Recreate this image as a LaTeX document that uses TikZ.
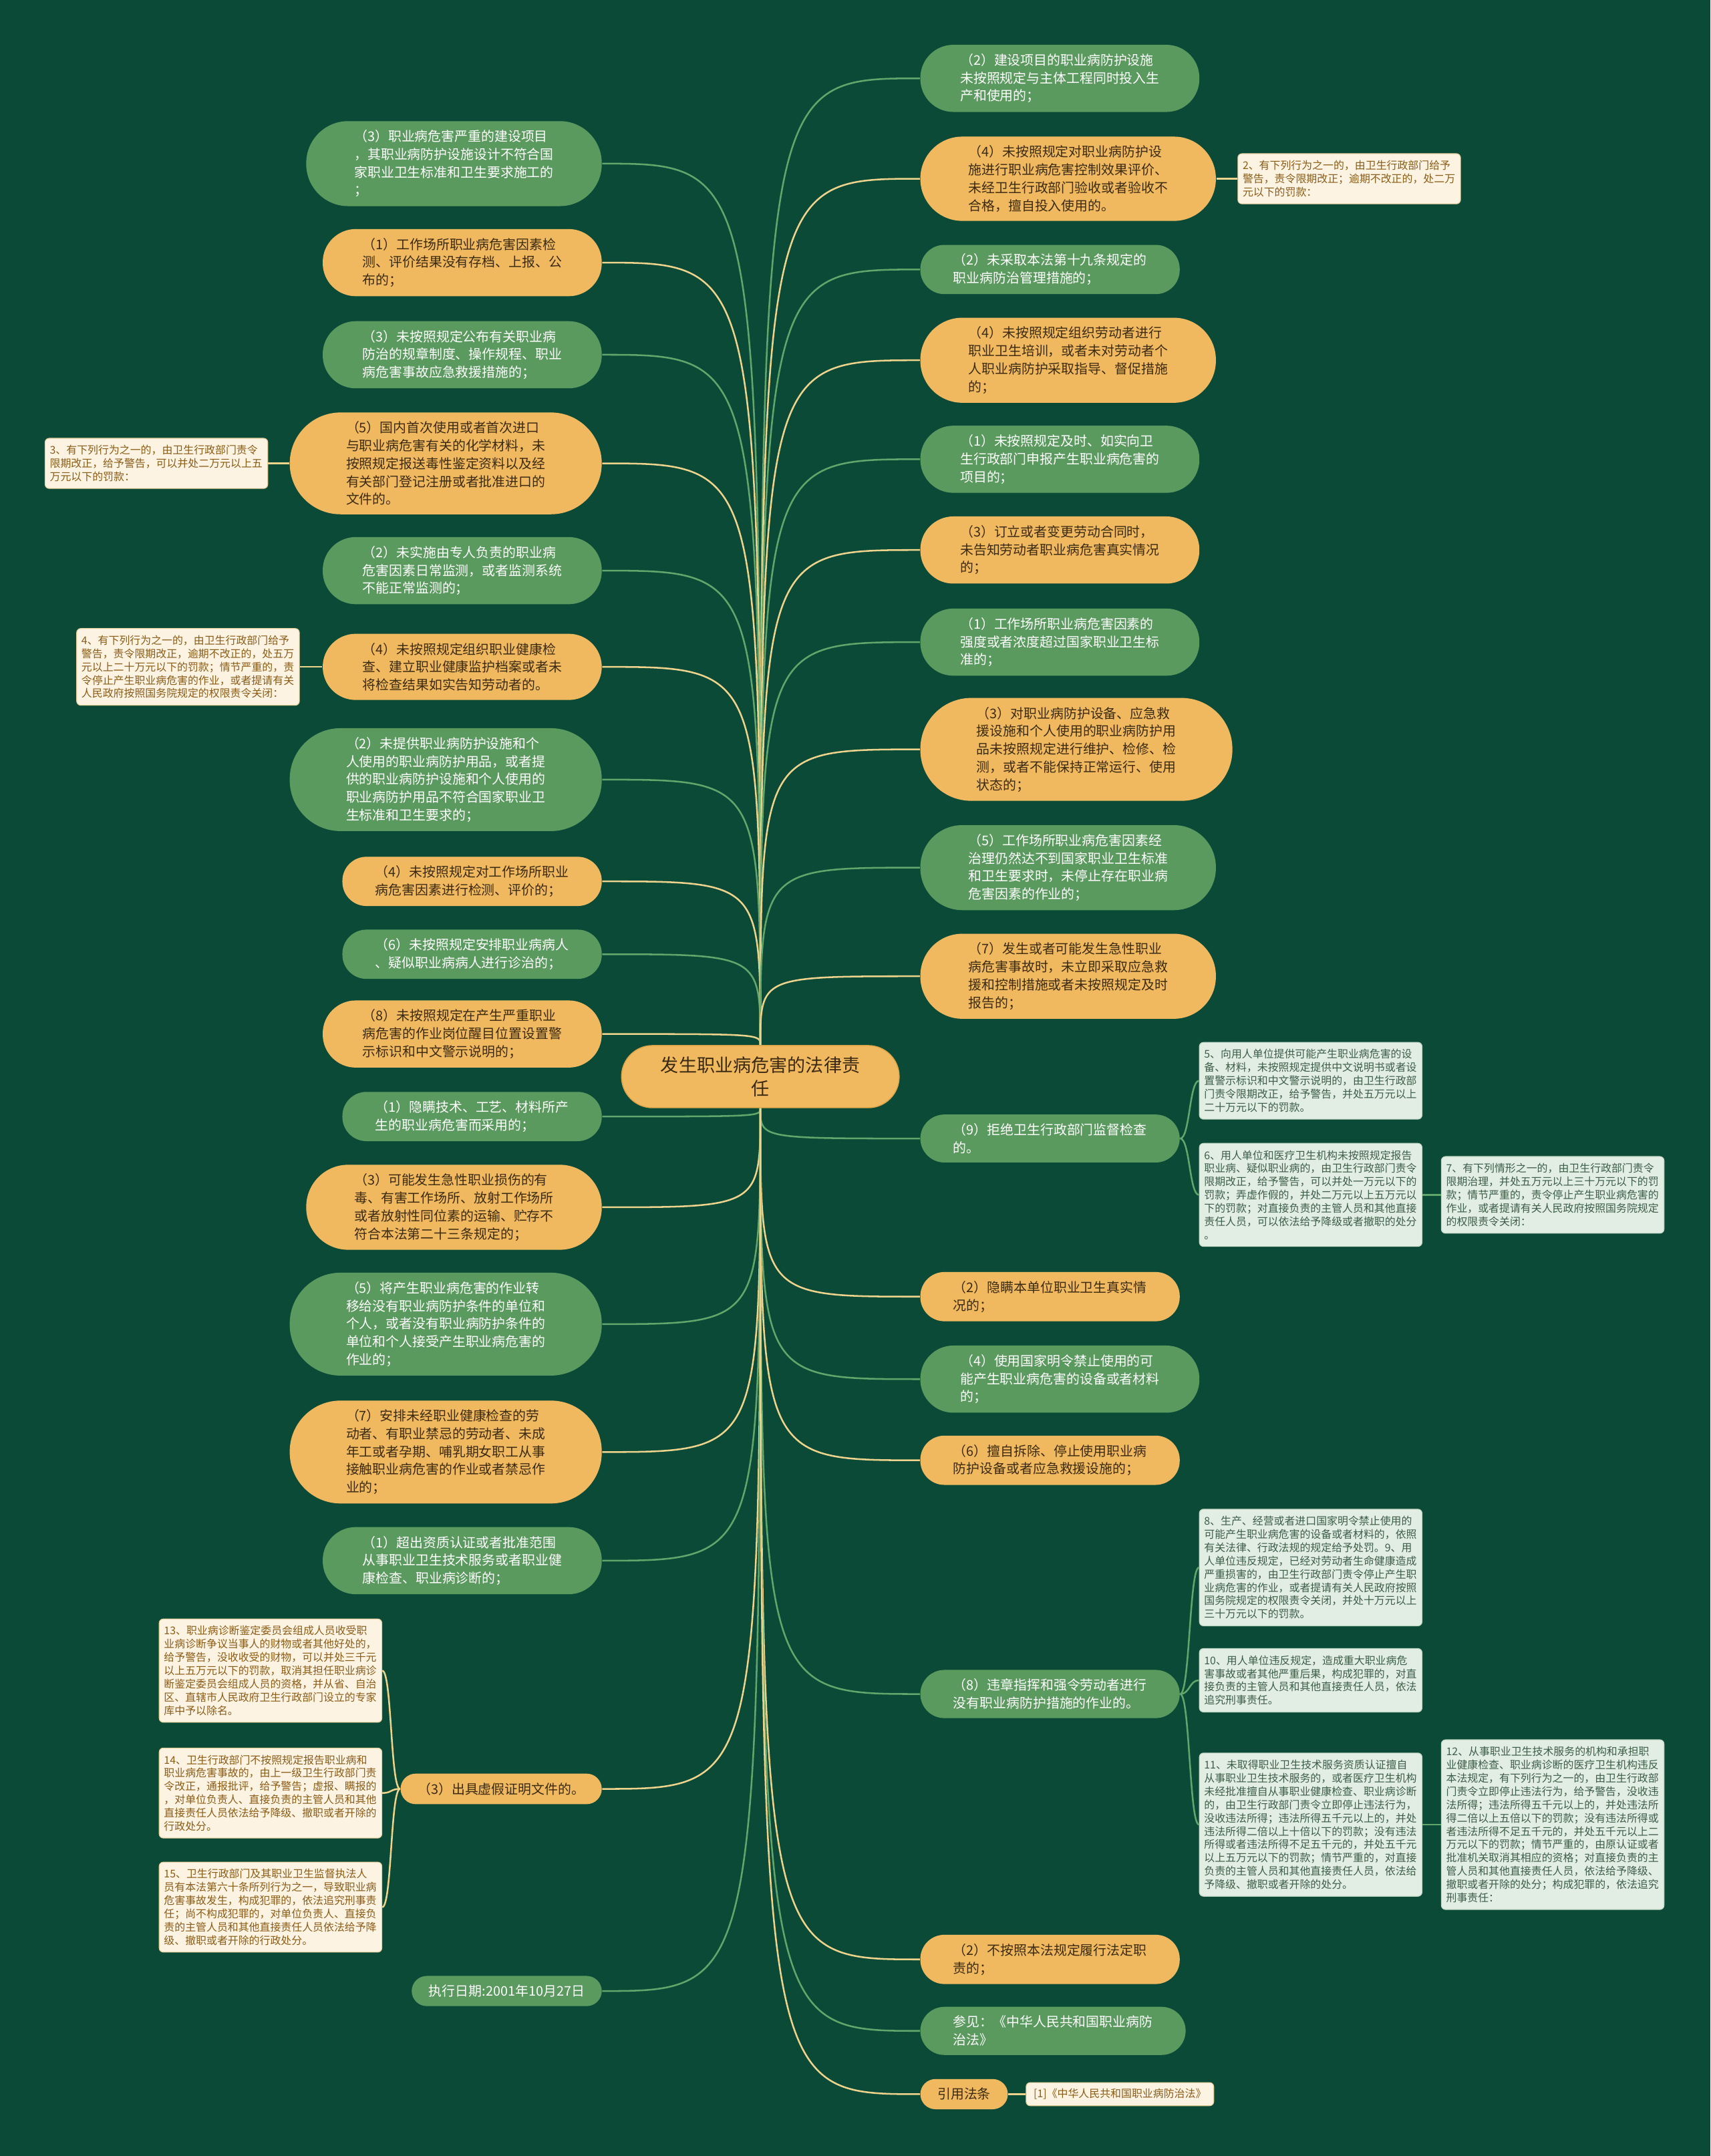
\documentclass[tikz,border=0pt]{standalone}
\usepackage{fontspec}
\setmainfont{Noto Sans CJK SC}
\usepackage{xcolor}
\definecolor{bg}{HTML}{0B4A37}
\definecolor{leaf}{HTML}{5A9A5E}
\definecolor{amber}{HTML}{F0B95F}
\definecolor{amberdark}{HTML}{DDA548}
\definecolor{ink}{HTML}{3B2A12}
\definecolor{cream}{HTML}{FDF3E2}
\definecolor{creamline}{HTML}{E6CF98}
\definecolor{creamtext}{HTML}{8A5C17}
\definecolor{mint}{HTML}{E2EDE3}
\definecolor{mintline}{HTML}{BFD6C3}
\definecolor{minttext}{HTML}{3C5E47}
\definecolor{lineg}{HTML}{62A66B}
\definecolor{liney}{HTML}{EDD38C}
\tikzset{
  hub/.style={fill=amber, draw=amberdark, line width=0.4pt, text=ink, rounded corners=0.45cm,
    inner xsep=0.57cm, inner ysep=0.16cm, align=center, font=\fontsize{7.5}{9.7}\selectfont},
  gbox/.style={fill=leaf, text=white, align=left, inner ysep=0.13cm, font=\fontsize{5.5}{7.4}\selectfont},
  obox/.style={fill=amber, text=ink, align=left, inner ysep=0.13cm, font=\fontsize{5.5}{7.4}\selectfont},
  h1/.style={rounded corners=0.22cm, inner xsep=0.25cm},
  h2/.style={rounded corners=0.35cm, inner xsep=0.48cm},
  h3/.style={rounded corners=0.48cm, inner xsep=0.58cm},
  h4/.style={rounded corners=0.61cm, inner xsep=0.70cm},
  h5/.style={rounded corners=0.74cm, inner xsep=0.82cm},
  memo/.style={rounded corners=0.06cm, align=left, inner xsep=0.07cm, inner ysep=0.1cm,
    line width=0.3pt, font=\fontsize{4.4}{5.5}\selectfont},
  cnote/.style={memo, fill=cream, draw=creamline, text=creamtext, text width=3.1cm},
  gnote/.style={memo, fill=mint, draw=mintline, text=minttext, text width=3.1cm},
  wire/.style={line width=0.7pt},
}

\begin{document}
\begin{tikzpicture}[x=0.02cm, y=-0.02cm]
  \fill[bg] (0,0) rectangle (1244,1568);
  \useasboundingbox (0,0) rectangle (1244,1568);

  \node[hub] (root) at (553,783) {发生职业病危害的法律责\\任};

  % left side
  \node[gbox, h4, anchor=east] (l1) at (438,119) {（3）职业病危害严重的建设项目\\，其职业病防护设施设计不符合国\\家职业卫生标准和卫生要求施工的\\；};
  \node[obox, h3, anchor=east] (l2) at (438,191) {（1）工作场所职业病危害因素检\\测、评价结果没有存档、上报、公\\布的；};
  \node[gbox, h3, anchor=east] (l3) at (438,258) {（3）未按照规定公布有关职业病\\防治的规章制度、操作规程、职业\\病危害事故应急救援措施的；};
  \node[obox, h5, anchor=east] (l4) at (438,337) {（5）国内首次使用或者首次进口\\与职业病危害有关的化学材料，未\\按照规定报送毒性鉴定资料以及经\\有关部门登记注册或者批准进口的\\文件的。};
  \node[gbox, h3, anchor=east] (l5) at (438,415) {（2）未实施由专人负责的职业病\\危害因素日常监测，或者监测系统\\不能正常监测的；};
  \node[obox, h3, anchor=east] (l6) at (438,485) {（4）未按照规定组织职业健康检\\查、建立职业健康监护档案或者未\\将检查结果如实告知劳动者的。};
  \node[gbox, h5, anchor=east] (l7) at (438,567) {（2）未提供职业病防护设施和个\\人使用的职业病防护用品，或者提\\供的职业病防护设施和个人使用的\\职业病防护用品不符合国家职业卫\\生标准和卫生要求的；};
  \node[obox, h2, anchor=east] (l8) at (438,641) {（4）未按照规定对工作场所职业\\病危害因素进行检测、评价的；};
  \node[gbox, h2, anchor=east] (l9) at (438,694) {（6）未按照规定安排职业病病人\\、疑似职业病病人进行诊治的；};
  \node[obox, h3, anchor=east] (l10) at (438,752) {（8）未按照规定在产生严重职业\\病危害的作业岗位醒目位置设置警\\示标识和中文警示说明的；};
  \node[gbox, h2, anchor=east] (l11) at (438,812) {（1）隐瞒技术、工艺、材料所产\\生的职业病危害而采用的；};
  \node[obox, h4, anchor=east] (l12) at (438,878) {（3）可能发生急性职业损伤的有\\毒、有害工作场所、放射工作场所\\或者放射性同位素的运输、贮存不\\符合本法第二十三条规定的；};
  \node[gbox, h5, anchor=east] (l13) at (438,963) {（5）将产生职业病危害的作业转\\移给没有职业病防护条件的单位和\\个人，或者没有职业病防护条件的\\单位和个人接受产生职业病危害的\\作业的；};
  \node[obox, h5, anchor=east] (l14) at (438,1056) {（7）安排未经职业健康检查的劳\\动者、有职业禁忌的劳动者、未成\\年工或者孕期、哺乳期女职工从事\\接触职业病危害的作业或者禁忌作\\业的；};
  \node[gbox, h3, anchor=east] (l15) at (438,1135) {（1）超出资质认证或者批准范围\\从事职业卫生技术服务或者职业健\\康检查、职业病诊断的；};
  \node[obox, h1, anchor=east] (l16) at (438,1301) {（3）出具虚假证明文件的。};
  \node[gbox, h1, anchor=east] (l17) at (438,1448) {执行日期:2001年10月27日};

  % right side
  \node[gbox, h3, anchor=west] (r1) at (669,57) {（2）建设项目的职业病防护设施\\未按照规定与主体工程同时投入生\\产和使用的；};
  \node[obox, h4, anchor=west] (r2) at (669,130) {（4）未按照规定对职业病防护设\\施进行职业病危害控制效果评价、\\未经卫生行政部门验收或者验收不\\合格，擅自投入使用的。};
  \node[gbox, h2, anchor=west] (r3) at (669,196) {（2）未采取本法第十九条规定的\\职业病防治管理措施的；};
  \node[obox, h4, anchor=west] (r4) at (669,262) {（4）未按照规定组织劳动者进行\\职业卫生培训，或者未对劳动者个\\人职业病防护采取指导、督促措施\\的；};
  \node[gbox, h3, anchor=west] (r5) at (669,334) {（1）未按照规定及时、如实向卫\\生行政部门申报产生职业病危害的\\项目的；};
  \node[obox, h3, anchor=west] (r6) at (669,400) {（3）订立或者变更劳动合同时，\\未告知劳动者职业病危害真实情况\\的；};
  \node[gbox, h3, anchor=west] (r7) at (669,467) {（1）工作场所职业病危害因素的\\强度或者浓度超过国家职业卫生标\\准的；};
  \node[obox, h5, anchor=west] (r8) at (669,545) {（3）对职业病防护设备、应急救\\援设施和个人使用的职业病防护用\\品未按照规定进行维护、检修、检\\测，或者不能保持正常运行、使用\\状态的；};
  \node[gbox, h4, anchor=west] (r9) at (669,631) {（5）工作场所职业病危害因素经\\治理仍然达不到国家职业卫生标准\\和卫生要求时，未停止存在职业病\\危害因素的作业的；};
  \node[obox, h4, anchor=west] (r10) at (669,710) {（7）发生或者可能发生急性职业\\病危害事故时，未立即采取应急救\\援和控制措施或者未按照规定及时\\报告的；};
  \node[gbox, h2, anchor=west] (r11) at (669,828) {（9）拒绝卫生行政部门监督检查\\的。};
  \node[obox, h2, anchor=west] (r12) at (669,943) {（2）隐瞒本单位职业卫生真实情\\况的；};
  \node[gbox, h3, anchor=west] (r13) at (669,1003) {（4）使用国家明令禁止使用的可\\能产生职业病危害的设备或者材料\\的；};
  \node[obox, h2, anchor=west] (r14) at (669,1062) {（6）擅自拆除、停止使用职业病\\防护设备或者应急救援设施的；};
  \node[gbox, h2, anchor=west] (r15) at (669,1232) {（8）违章指挥和强令劳动者进行\\没有职业病防护措施的作业的。};
  \node[obox, h2, anchor=west] (r16) at (669,1425) {（2）不按照本法规定履行法定职\\责的；};
  \node[gbox, h2, anchor=west] (r17) at (669,1477) {参见：《中华人民共和国职业病防\\治法》};
  \node[obox, h1, anchor=west] (r18) at (669,1523) {引用法条};

  % notes
  \node[cnote, anchor=west] (n2) at (900,130) {2、有下列行为之一的，由卫生行政部门给予\\警告，责令限期改正；逾期不改正的，处二万\\元以下的罚款：};
  \node[cnote, anchor=east] (n3) at (195,337) {3、有下列行为之一的，由卫生行政部门责令\\限期改正，给予警告，可以并处二万元以上五\\万元以下的罚款：};
  \node[cnote, anchor=east] (n4) at (218,485) {4、有下列行为之一的，由卫生行政部门给予\\警告，责令限期改正，逾期不改正的，处五万\\元以上二十万元以下的罚款；情节严重的，责\\令停止产生职业病危害的作业，或者提请有关\\人民政府按照国务院规定的权限责令关闭：};
  \node[gnote, anchor=west] (n5) at (872,786) {5、向用人单位提供可能产生职业病危害的设\\备、材料，未按照规定提供中文说明书或者设\\置警示标识和中文警示说明的，由卫生行政部\\门责令限期改正，给予警告，并处五万元以上\\二十万元以下的罚款。};
  \node[gnote, anchor=west] (n6) at (872,869) {6、用人单位和医疗卫生机构未按照规定报告\\职业病、疑似职业病的，由卫生行政部门责令\\限期改正，给予警告，可以并处一万元以下的\\罚款；弄虚作假的，并处二万元以上五万元以\\下的罚款；对直接负责的主管人员和其他直接\\责任人员，可以依法给予降级或者撤职的处分\\。};
  \node[gnote, anchor=west] (n7) at (1048,869) {7、有下列情形之一的，由卫生行政部门责令\\限期治理，并处五万元以上三十万元以下的罚\\款；情节严重的，责令停止产生职业病危害的\\作业，或者提请有关人民政府按照国务院规定\\的权限责令关闭：};
  \node[gnote, anchor=west] (n8) at (872,1140) {8、生产、经营或者进口国家明令禁止使用的\\可能产生职业病危害的设备或者材料的，依照\\有关法律、行政法规的规定给予处罚。9、用\\人单位违反规定，已经对劳动者生命健康造成\\严重损害的，由卫生行政部门责令停止产生职\\业病危害的作业，或者提请有关人民政府按照\\国务院规定的权限责令关闭，并处十万元以上\\三十万元以下的罚款。};
  \node[gnote, anchor=west] (n10) at (872,1222) {10、用人单位违反规定，造成重大职业病危\\害事故或者其他严重后果，构成犯罪的，对直\\接负责的主管人员和其他直接责任人员，依法\\追究刑事责任。};
  \node[gnote, anchor=west] (n11) at (872,1327) {11、未取得职业卫生技术服务资质认证擅自\\从事职业卫生技术服务的，或者医疗卫生机构\\未经批准擅自从事职业健康检查、职业病诊断\\的，由卫生行政部门责令立即停止违法行为，\\没收违法所得；违法所得五千元以上的，并处\\违法所得二倍以上十倍以下的罚款；没有违法\\所得或者违法所得不足五千元的，并处五千元\\以上五万元以下的罚款；情节严重的，对直接\\负责的主管人员和其他直接责任人员，依法给\\予降级、撤职或者开除的处分。};
  \node[gnote, anchor=west] (n12) at (1048,1327) {12、从事职业卫生技术服务的机构和承担职\\业健康检查、职业病诊断的医疗卫生机构违反\\本法规定，有下列行为之一的，由卫生行政部\\门责令立即停止违法行为，给予警告，没收违\\法所得；违法所得五千元以上的，并处违法所\\得二倍以上五倍以下的罚款；没有违法所得或\\者违法所得不足五千元的，并处五千元以上二\\万元以下的罚款；情节严重的，由原认证或者\\批准机关取消其相应的资格；对直接负责的主\\管人员和其他直接责任人员，依法给予降级、\\撤职或者开除的处分；构成犯罪的，依法追究\\刑事责任：};
  \node[cnote, anchor=east] (n13) at (278,1215) {13、职业病诊断鉴定委员会组成人员收受职\\业病诊断争议当事人的财物或者其他好处的，\\给予警告，没收收受的财物，可以并处三千元\\以上五万元以下的罚款，取消其担任职业病诊\\断鉴定委员会组成人员的资格，并从省、自治\\区、直辖市人民政府卫生行政部门设立的专家\\库中予以除名。};
  \node[cnote, anchor=east] (n14) at (278,1304) {14、卫生行政部门不按照规定报告职业病和\\职业病危害事故的，由上一级卫生行政部门责\\令改正，通报批评，给予警告；虚报、瞒报的\\，对单位负责人、直接负责的主管人员和其他\\直接责任人员依法给予降级、撤职或者开除的\\行政处分。};
  \node[cnote, anchor=east] (n15) at (278,1387) {15、卫生行政部门及其职业卫生监督执法人\\员有本法第六十条所列行为之一，导致职业病\\危害事故发生，构成犯罪的，依法追究刑事责\\任；尚不构成犯罪的，对单位负责人、直接负\\责的主管人员和其他直接责任人员依法给予降\\级、撤职或者开除的行政处分。};
  \node[memo, fill=cream, draw=creamline, text=creamtext, inner xsep=0.11cm, inner ysep=0.09cm, anchor=west] (cite) at (746,1523) {[1]《中华人民共和国职业病防治法》};

  % branches from the title
  \foreach \n/\a/\c in {l1/north/lineg, l2/north/liney, l3/north/lineg, l4/north/liney, l5/north/lineg,
      l6/north/liney, l7/north/lineg, l8/north/liney, l9/north/lineg, l10/north/liney, l11/south/lineg,
      l12/south/liney, l13/south/lineg, l14/south/liney, l15/south/lineg, l16/south/liney, l17/south/lineg}
    \draw[wire, draw=\c] (root.\a) .. controls (root.\a |- \n.east) .. (\n.east);
  \foreach \n/\a/\c in {r1/north/lineg, r2/north/liney, r3/north/lineg, r4/north/liney, r5/north/lineg,
      r6/north/liney, r7/north/lineg, r8/north/liney, r9/north/lineg, r10/north/liney, r11/south/lineg,
      r12/south/liney, r13/south/lineg, r14/south/liney, r15/south/lineg, r16/south/liney, r17/south/lineg,
      r18/south/liney}
    \draw[wire, draw=\c] (root.\a) .. controls (root.\a |- \n.west) .. (\n.west);

  % notes
  \draw[wire, draw=liney] (r2.east) -- (n2.west);
  \draw[wire, draw=liney] (l4.west) -- (n3.east);
  \draw[wire, draw=liney] (l6.west) -- (n4.east);
  \foreach \m in {n5,n6}
    \draw[wire, draw=lineg] (r11.east) .. controls +(7,0) and +(-7,0) .. (\m.west);
  \draw[wire, draw=lineg] (n6.east) -- (n7.west);
  \foreach \m in {n8,n10,n11}
    \draw[wire, draw=lineg] (r15.east) .. controls +(7,0) and +(-7,0) .. (\m.west);
  \draw[wire, draw=lineg] (n11.east) -- (n12.west);
  \foreach \m in {n13,n14,n15}
    \draw[wire, draw=liney] (l16.west) .. controls +(-7,0) and +(7,0) .. (\m.east);
  \draw[wire, draw=liney] (r18.east) -- (cite.west);
\end{tikzpicture}
\end{document}
